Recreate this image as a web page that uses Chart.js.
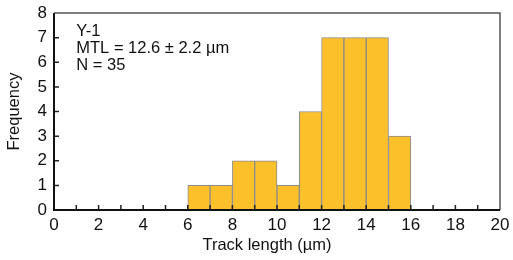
<!DOCTYPE html>
<html><head><meta charset="utf-8">
<script src="https://cdn.jsdelivr.net/npm/chart.js@4"></script>
<style>html,body{margin:0;padding:0;background:#fff}#wrap{width:513px;height:260px}</style>
</head><body><div id="wrap"><canvas id="c" width="513" height="260"></canvas></div>
<script>
const binStarts = [6, 7, 8, 9, 10, 11, 12, 13, 14, 15];
const binWidth = 1;
const counts = [1, 1, 2, 2, 1, 4, 7, 7, 7, 3];
const xTickLabels = [0, 2, 4, 6, 8, 10, 12, 14, 16, 18, 20];
const yTickLabels = [0, 1, 2, 3, 4, 5, 6, 7, 8];
const annotationLines = ["Y-1", "MTL = 12.6 ± 2.2 µm", "N = 35"];
const xTitle = "Track length (µm)";

const FONT = "'Liberation Sans', Arial, sans-serif";
const data = binStarts.map((s, i) => ({x: s + binWidth / 2, y: counts[i]}));

const framePlugin = {
  id: 'frame',
  afterDatasetsDraw(chart) {
    const {ctx, chartArea: a, scales: {x, y}} = chart;
    ctx.save();
    ctx.strokeStyle = '#555';
    ctx.lineWidth = 1.5;
    ctx.beginPath();
    ctx.moveTo(a.left, a.top); ctx.lineTo(a.right, a.top); ctx.lineTo(a.right, a.bottom);
    ctx.stroke();
    ctx.strokeStyle = '#222';
    ctx.lineWidth = 1.5;
    ctx.beginPath();
    for (let v = 1; v < 20; v++) {
      const px = x.getPixelForValue(v);
      ctx.moveTo(px, a.bottom); ctx.lineTo(px, a.bottom - 5);
    }
    for (let v = 1; v < 8; v++) {
      const py = y.getPixelForValue(v);
      ctx.moveTo(a.left, py); ctx.lineTo(a.left + 5, py);
    }
    ctx.stroke();
    ctx.strokeStyle = '#111';
    ctx.lineWidth = 2;
    ctx.beginPath();
    ctx.moveTo(a.left, a.top); ctx.lineTo(a.left, a.bottom); ctx.lineTo(a.right, a.bottom);
    ctx.stroke();
    ctx.fillStyle = '#111';
    ctx.font = '16.5px ' + FONT;
    ctx.textBaseline = 'middle';
    annotationLines.forEach((t, i) => {
      ctx.fillText(t, x.getPixelForValue(1.0), y.getPixelForValue(7.27 - i * 0.71));
    });
    ctx.textAlign = 'center';
    ctx.fillText(xTitle, x.getPixelForValue(9.55), 245);
    ctx.restore();
  }
};

new Chart(document.getElementById('c'), {
  type: 'bar',
  data: {
    datasets: [{
      data: data,
      backgroundColor: '#FCC02A',
      borderColor: '#8C8C8C',
      borderWidth: 1,
      barPercentage: 1,
      categoryPercentage: 1
    }]
  },
  options: {
    responsive: false,
    animation: false,
    layout: {padding: {top: 13, right: 13, left: 0, bottom: 0}},
    plugins: {legend: {display: false}, tooltip: {enabled: false}},
    scales: {
      x: {
        type: 'linear', min: 0, max: 20, offset: false,
        grid: {display: false, drawTicks: false},
        border: {display: false},
        afterBuildTicks(s) { s.ticks = xTickLabels.map(v => ({value: v})); },
        afterFit(s) { s.height = 50; s.paddingLeft = 0; s.paddingRight = 0; },
        ticks: {color: '#111', font: {family: FONT, size: 17}, padding: 5, maxRotation: 0, autoSkip: false},
        title: {display: false}
      },
      y: {
        min: 0, max: 8,
        grid: {display: false, drawTicks: false},
        border: {display: false},
        afterBuildTicks(s) { s.ticks = yTickLabels.map(v => ({value: v})); },
        afterFit(s) { s.width = 54; s.paddingTop = 0; s.paddingBottom = 0; },
        ticks: {color: '#111', font: {family: FONT, size: 17}, padding: 7},
        title: {display: true, text: 'Frequency', color: '#111', font: {family: FONT, size: 16.5}, padding: {top: 5, bottom: 0}}
      }
    }
  },
  plugins: [framePlugin]
});
</script>
</body></html>
